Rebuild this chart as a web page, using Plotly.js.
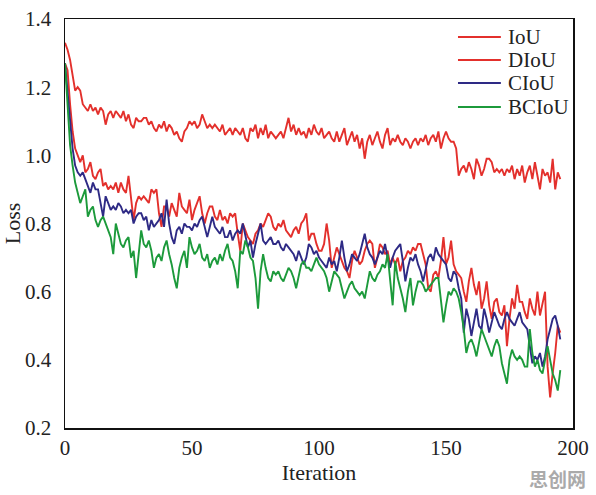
<!DOCTYPE html>
<html>
<head>
<meta charset="utf-8">
<script src="https://cdn.plot.ly/plotly-3.0.1.min.js"></script>
<style>html,body{margin:0;padding:0;background:#fff;}#chart{width:596px;height:495px;}</style>
</head>
<body>
<div id="chart"></div>
<script>
const seriesNames = ["IoU", "DIoU", "CIoU", "BCIoU"];
const seriesColors = ["#e3302c", "#e3302c", "#2e2a85", "#1c9a3b"];
const xTickVals = [0, 50, 100, 150, 200];
const yTickVals = [0.2, 0.4, 0.6, 0.8, 1.0, 1.2, 1.4];
const yTickText = ["0.2", "0.4", "0.6", "0.8", "1.0", "1.2", "1.4"];

const iouLoss = [
1.33,1.31,1.28,1.24,1.19,1.20,1.19,1.15,1.14,1.13,
1.15,1.13,1.14,1.12,1.14,1.13,1.09,1.12,1.13,1.11,
1.13,1.12,1.11,1.13,1.10,1.12,1.09,1.08,1.11,1.10,
1.10,1.11,1.11,1.09,1.10,1.08,1.07,1.09,1.08,1.10,
1.07,1.09,1.08,1.06,1.07,1.05,1.04,1.07,1.08,1.10,
1.09,1.10,1.08,1.09,1.12,1.10,1.08,1.09,1.08,1.09,
1.08,1.07,1.09,1.06,1.07,1.08,1.06,1.08,1.07,1.06,
1.08,1.05,1.04,1.08,1.07,1.09,1.05,1.08,1.06,1.09,
1.05,1.07,1.06,1.05,1.06,1.07,1.05,1.08,1.11,1.07,
1.09,1.06,1.08,1.06,1.07,1.05,1.08,1.06,1.09,1.07,
1.06,1.08,1.05,1.06,1.07,1.05,1.04,1.07,1.04,1.06,
1.08,1.03,1.05,1.07,1.04,1.06,1.02,1.05,0.99,1.04,
1.06,1.03,1.05,1.07,1.04,1.02,1.06,1.08,1.03,1.05,
1.04,1.06,1.04,1.03,1.05,1.04,1.02,1.04,1.05,1.03,
1.05,1.04,1.06,1.03,1.05,1.06,1.04,1.07,1.02,1.05,
1.07,1.05,1.04,1.04,1.02,0.94,0.96,0.97,0.95,0.98,
0.96,0.93,0.99,0.97,0.94,0.96,0.99,0.99,0.98,0.95,
0.96,0.95,0.96,0.94,0.96,0.95,0.97,0.93,0.96,0.94,
0.97,0.92,0.95,0.97,0.93,0.98,0.94,0.90,0.96,0.94,
0.95,0.92,0.99,0.90,0.95,0.93
];

const diouLoss = [
1.27,1.25,1.15,1.07,1.02,1.00,0.98,1.00,0.95,0.96,
0.98,0.94,0.93,0.95,0.96,0.91,0.92,0.90,0.91,0.90,
0.92,0.89,0.92,0.90,0.89,0.94,0.88,0.81,0.86,0.88,
0.87,0.88,0.87,0.86,0.90,0.89,0.90,0.83,0.79,0.85,
0.85,0.82,0.86,0.84,0.82,0.89,0.85,0.84,0.83,0.87,
0.81,0.84,0.86,0.88,0.83,0.80,0.83,0.85,0.85,0.82,
0.81,0.84,0.81,0.82,0.80,0.83,0.82,0.83,0.77,0.72,
0.80,0.78,0.76,0.75,0.74,0.77,0.78,0.80,0.79,0.81,
0.83,0.82,0.79,0.78,0.80,0.79,0.81,0.78,0.77,0.76,
0.78,0.79,0.77,0.80,0.81,0.83,0.75,0.77,0.77,0.74,
0.72,0.72,0.74,0.80,0.75,0.67,0.70,0.73,0.71,0.69,
0.67,0.66,0.64,0.69,0.72,0.70,0.68,0.69,0.72,0.74,
0.75,0.74,0.67,0.70,0.74,0.73,0.71,0.72,0.68,0.70,
0.68,0.70,0.66,0.69,0.70,0.72,0.71,0.73,0.72,0.74,
0.74,0.71,0.68,0.61,0.60,0.65,0.66,0.64,0.69,0.76,
0.68,0.70,0.75,0.68,0.66,0.65,0.64,0.60,0.57,0.63,
0.67,0.62,0.59,0.63,0.55,0.58,0.63,0.56,0.52,0.57,
0.58,0.54,0.53,0.56,0.44,0.52,0.58,0.55,0.62,0.57,
0.57,0.54,0.52,0.58,0.55,0.53,0.60,0.53,0.57,0.60,
0.38,0.29,0.36,0.42,0.50,0.48
];

const ciouLoss = [
1.27,1.19,1.10,1.02,0.97,0.95,0.94,0.95,0.93,0.91,
0.89,0.92,0.90,0.90,0.86,0.82,0.88,0.86,0.84,0.85,
0.84,0.86,0.85,0.83,0.84,0.83,0.84,0.80,0.82,0.83,
0.83,0.81,0.82,0.78,0.81,0.79,0.80,0.81,0.83,0.79,
0.87,0.80,0.76,0.74,0.78,0.79,0.77,0.80,0.79,0.79,
0.78,0.80,0.79,0.81,0.82,0.79,0.76,0.79,0.82,0.79,
0.78,0.77,0.79,0.76,0.76,0.78,0.75,0.77,0.78,0.77,
0.80,0.76,0.73,0.75,0.70,0.74,0.77,0.80,0.75,0.74,
0.75,0.76,0.74,0.74,0.75,0.73,0.72,0.74,0.73,0.72,
0.71,0.69,0.72,0.70,0.68,0.70,0.74,0.73,0.71,0.72,
0.70,0.69,0.68,0.67,0.70,0.68,0.69,0.66,0.70,0.75,
0.70,0.66,0.68,0.71,0.70,0.69,0.71,0.74,0.77,0.73,
0.71,0.70,0.68,0.70,0.72,0.71,0.74,0.70,0.67,0.70,
0.72,0.73,0.74,0.69,0.63,0.67,0.70,0.69,0.71,0.68,
0.66,0.63,0.67,0.70,0.71,0.69,0.73,0.71,0.70,0.69,
0.68,0.64,0.63,0.66,0.65,0.61,0.58,0.48,0.55,0.52,
0.47,0.51,0.55,0.50,0.49,0.55,0.52,0.48,0.51,0.54,
0.52,0.50,0.49,0.52,0.54,0.52,0.51,0.50,0.52,0.54,
0.51,0.50,0.49,0.44,0.39,0.41,0.40,0.42,0.38,0.41,
0.46,0.49,0.52,0.53,0.50,0.46
];

const bciouLoss = [
1.27,1.15,1.03,0.97,0.92,0.89,0.86,0.88,0.90,0.82,
0.84,0.85,0.81,0.79,0.81,0.82,0.80,0.78,0.76,0.71,
0.80,0.77,0.74,0.73,0.75,0.76,0.70,0.72,0.64,0.71,
0.78,0.74,0.73,0.75,0.72,0.67,0.70,0.71,0.69,0.73,
0.75,0.71,0.68,0.64,0.61,0.67,0.70,0.72,0.67,0.76,
0.73,0.71,0.72,0.74,0.70,0.69,0.71,0.67,0.69,0.70,
0.68,0.71,0.69,0.72,0.74,0.70,0.69,0.66,0.61,0.72,
0.71,0.75,0.73,0.70,0.69,0.64,0.55,0.66,0.71,0.67,
0.64,0.63,0.66,0.65,0.66,0.64,0.63,0.65,0.67,0.66,
0.64,0.61,0.65,0.68,0.69,0.67,0.67,0.66,0.68,0.70,
0.68,0.67,0.66,0.64,0.60,0.63,0.66,0.65,0.64,0.61,
0.58,0.60,0.62,0.63,0.61,0.60,0.59,0.60,0.58,0.62,
0.66,0.64,0.63,0.65,0.66,0.68,0.67,0.71,0.63,0.56,
0.69,0.64,0.61,0.58,0.54,0.60,0.64,0.56,0.60,0.63,
0.63,0.62,0.60,0.61,0.62,0.63,0.64,0.64,0.58,0.51,
0.56,0.60,0.59,0.61,0.60,0.58,0.54,0.49,0.42,0.45,
0.46,0.44,0.41,0.45,0.49,0.47,0.45,0.43,0.41,0.44,
0.46,0.44,0.39,0.36,0.33,0.40,0.43,0.41,0.40,0.41,
0.40,0.38,0.38,0.49,0.42,0.38,0.40,0.37,0.36,0.40,
0.44,0.40,0.36,0.34,0.31,0.37
];

const allSeries = [iouLoss, diouLoss, ciouLoss, bciouLoss];
const traces = allSeries.map((vals, i) => ({
  x: vals.map((_, k) => k),
  y: vals,
  type: "scatter",
  mode: "lines",
  name: seriesNames[i],
  showlegend: false,
  line: { color: seriesColors[i], width: 1.9 }
}));

const fam = "Liberation Serif, Times New Roman, serif";
const txtColor = "#222";

// Manual legend (line samples + labels), positioned in paper coordinates
const legendY = [0.956, 0.900, 0.8435, 0.785];
const legendShapes = seriesNames.map((n, i) => ({
  type: "line", xref: "paper", yref: "paper",
  x0: 0.7736, x1: 0.858, y0: legendY[i], y1: legendY[i],
  line: { color: seriesColors[i], width: 2 }
}));
const legendLabels = seriesNames.map((n, i) => ({
  text: n, xref: "paper", yref: "paper", x: 0.868, y: legendY[i],
  xanchor: "left", yanchor: "middle", showarrow: false,
  font: { family: fam, size: 21, color: txtColor }
}));

const layout = {
  width: 596, height: 495,
  margin: { l: 65, r: 23, t: 19, b: 67 },
  paper_bgcolor: "#fff", plot_bgcolor: "#fff",
  font: { family: fam, size: 20, color: txtColor },
  showlegend: false,
  xaxis: {
    range: [0, 200], tickvals: xTickVals, ticks: "", showgrid: false, zeroline: false,
    showline: true, linecolor: "#111", linewidth: 1.5, mirror: true,
    ticklabelstandoff: 0,
    tickfont: { family: fam, size: 21, color: txtColor },
    title: { text: "Iteration", font: { family: fam, size: 22, color: txtColor }, standoff: 4 }
  },
  yaxis: {
    range: [0.2, 1.4], tickvals: yTickVals, ticktext: yTickText, ticks: "", showgrid: false, zeroline: false,
    showline: true, linecolor: "#111", linewidth: 1.5, mirror: true,
    ticklabelstandoff: 8,
    tickfont: { family: fam, size: 21, color: txtColor },
    title: { text: "Loss", font: { family: fam, size: 22, color: txtColor }, standoff: 0 }
  },
  shapes: legendShapes,
  annotations: legendLabels.concat([{
    text: "<b>思创网</b>", xref: "paper", yref: "paper", x: 1.03, y: -0.085,
    xanchor: "right", yanchor: "top", showarrow: false,
    font: { family: "Noto Sans CJK SC", size: 19, color: "#aaaaaa" }
  }])
};

Plotly.newPlot("chart", traces, layout, { displayModeBar: false, staticPlot: true });
</script>
</body>
</html>
